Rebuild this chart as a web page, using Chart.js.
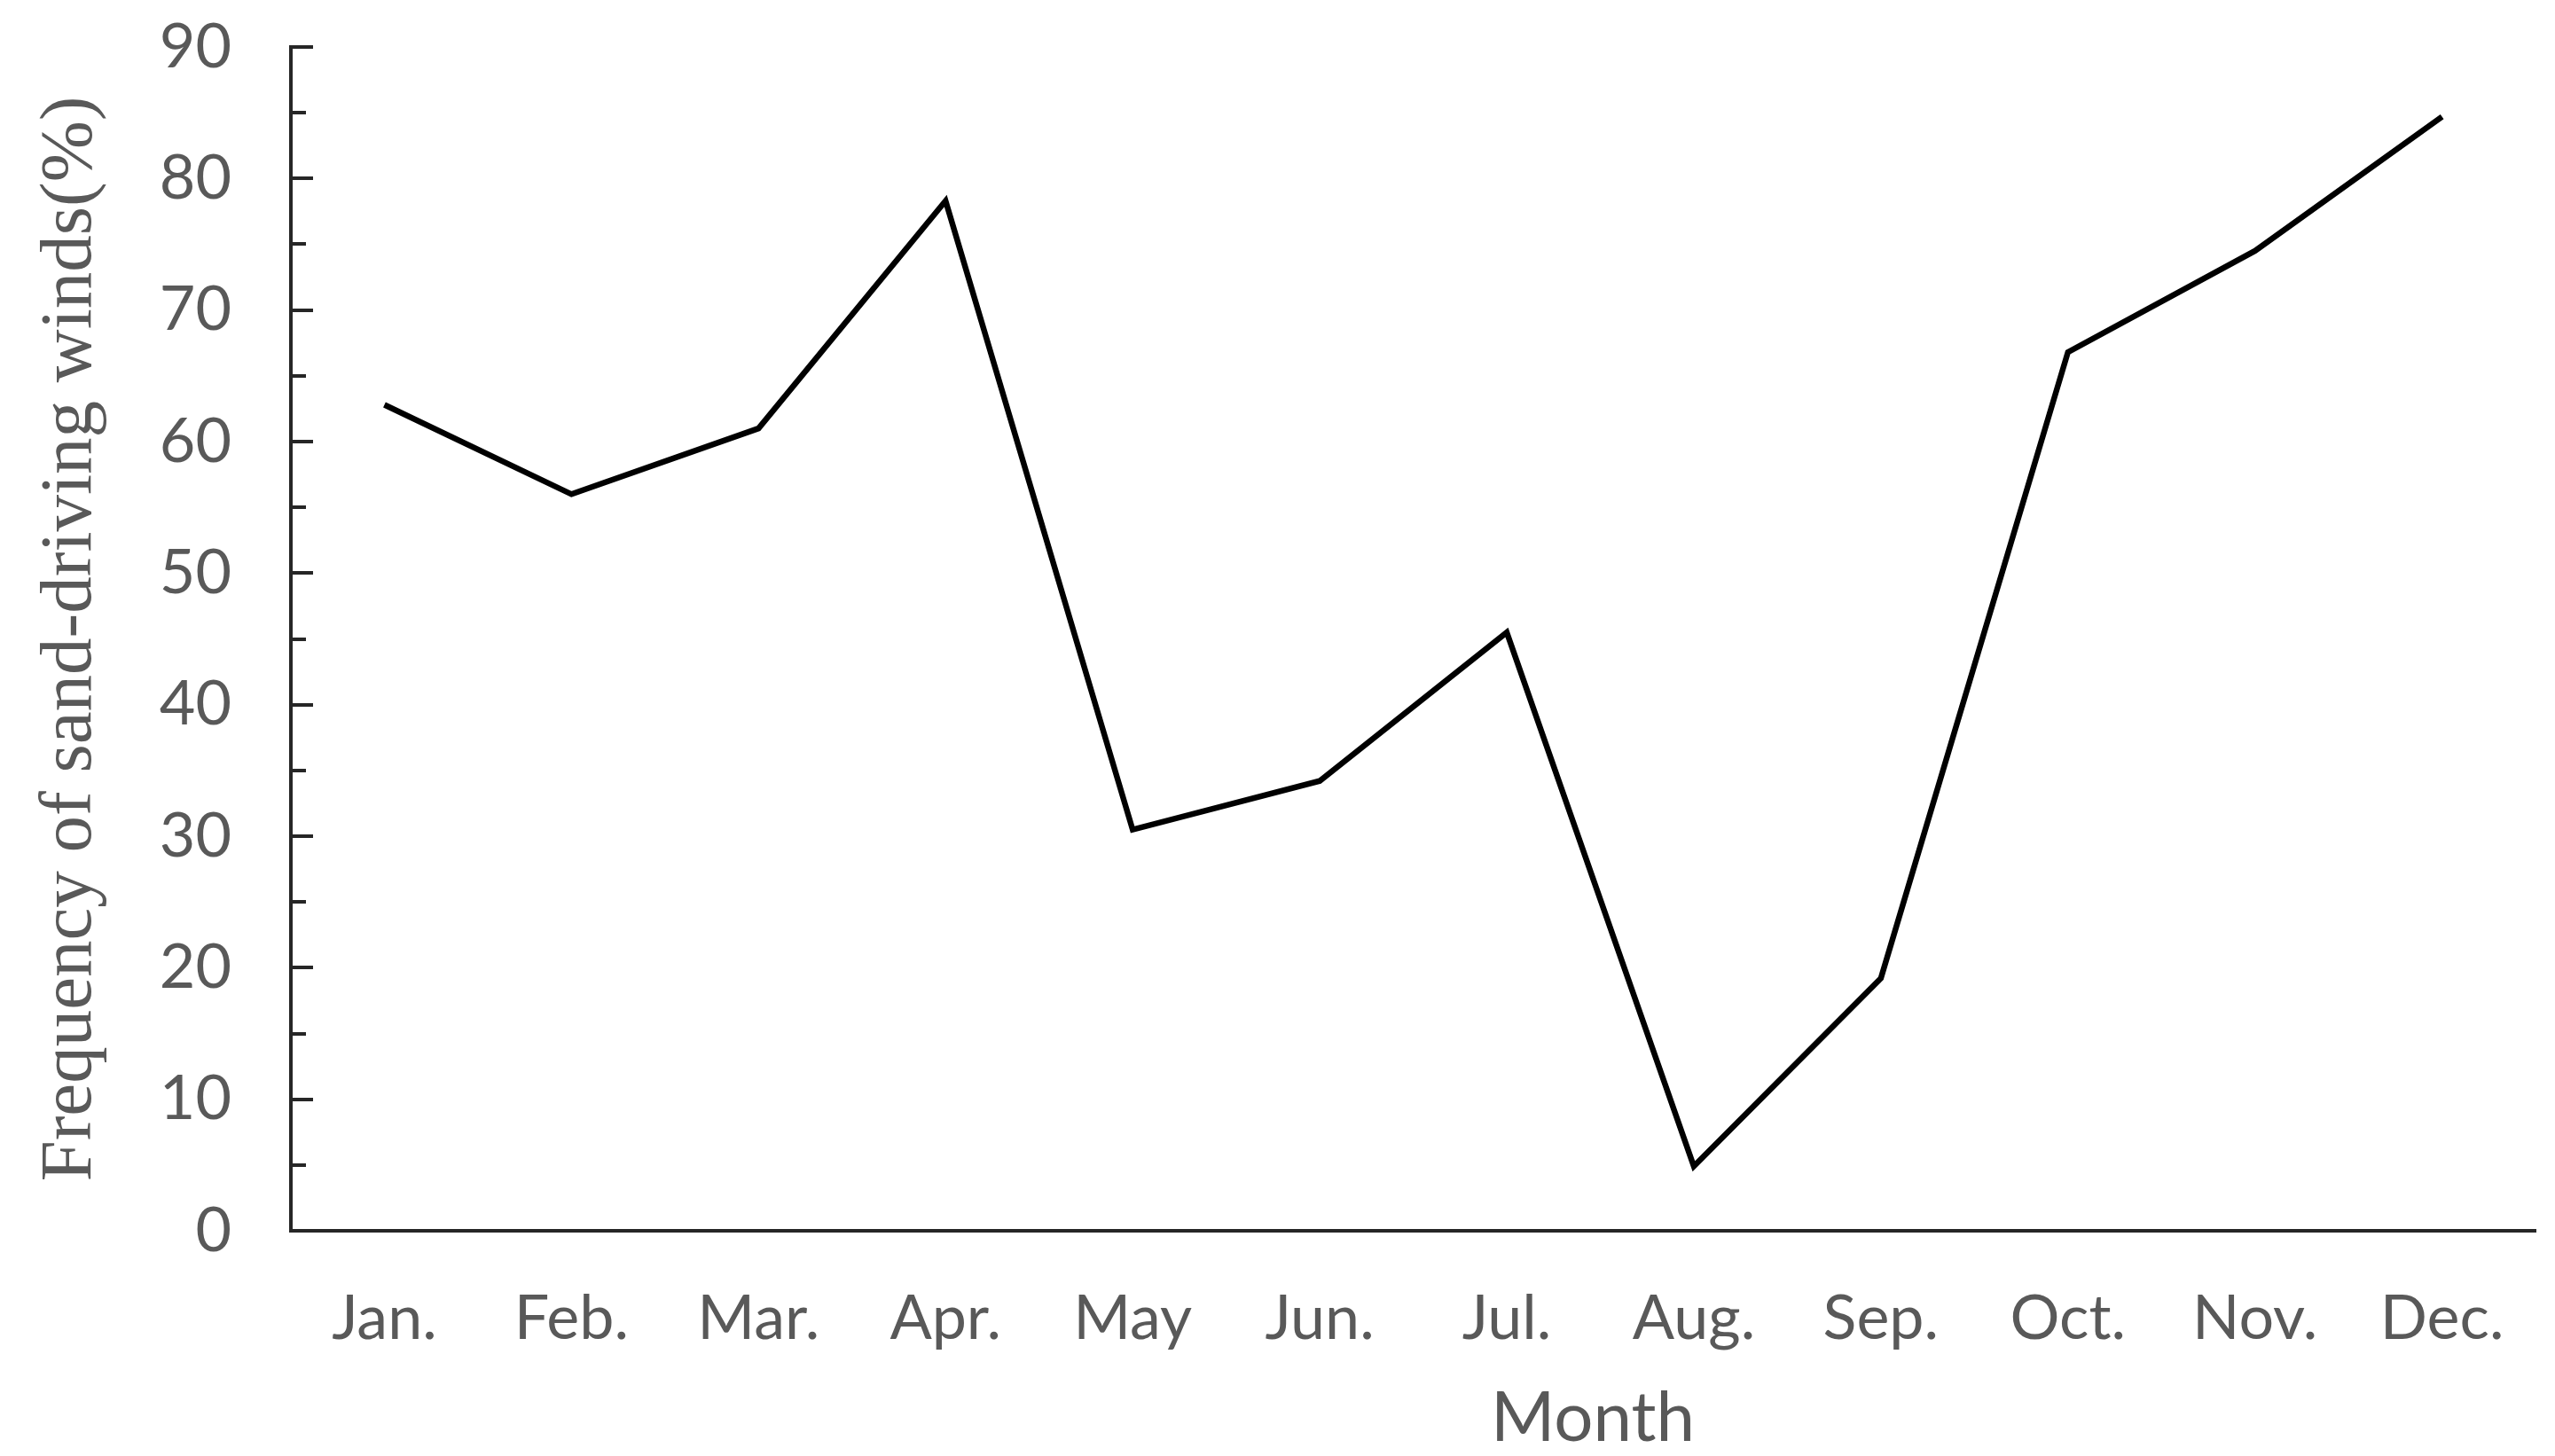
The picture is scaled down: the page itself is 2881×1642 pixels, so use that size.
<!DOCTYPE html>
<html>
<head>
<meta charset="utf-8">
<script src="https://cdn.jsdelivr.net/npm/chart.js@4.4.1/dist/chart.umd.min.js"></script>
<style>
    html, body { margin: 0; padding: 0; background: #fff; }
    #wrap { width: 2881px; height: 1642px; }
</style>
</head>
<body>
<div id="wrap"><canvas id="lineChart" width="2881" height="1642"></canvas></div>
<script>
// Chart data
const months = ['Jan.', 'Feb.', 'Mar.', 'Apr.', 'May', 'Jun.', 'Jul.', 'Aug.', 'Sep.', 'Oct.', 'Nov.', 'Dec.'];
const frequency = [62.8, 56.0, 61.0, 78.3, 30.5, 34.2, 45.5, 4.9, 19.2, 66.8, 74.5, 84.7];
const yMin = 0;
const yMax = 90;
const yStep = 10;
const yMinorStep = 5;

const textGray = '#595959';
const axisColor = '#262626';
const sansFont = "'Lato', sans-serif";

// inward tick marks on the y axis (major every 10, minor every 5)
const innerTicks = {
    id: 'innerTicks',
    afterDraw(chart) {
        const y = chart.scales.y;
        const ctx = chart.ctx;
        ctx.save();
        ctx.strokeStyle = axisColor;
        ctx.lineWidth = 4;
        for (let v = yMin; v <= yMax; v += yMinorStep) {
            const py = Math.round(y.getPixelForValue(v));
            const len = v % yStep === 0 ? 25 : 17;
            ctx.beginPath();
            ctx.moveTo(y.right, py);
            ctx.lineTo(y.right + len, py);
            ctx.stroke();
        }
        ctx.restore();
    }
};

// x axis title sits right of centre in the original
const monthTitle = {
    id: 'monthTitle',
    afterDraw(chart) {
        const area = chart.chartArea;
        const ctx = chart.ctx;
        ctx.save();
        ctx.fillStyle = textGray;
        ctx.font = '78px ' + sansFont;
        ctx.textAlign = 'center';
        ctx.textBaseline = 'middle';
        ctx.fillText('Month', area.left + (area.right - area.left) * 0.58, 1600);
        ctx.restore();
    }
};

new Chart(document.getElementById('lineChart').getContext('2d'), {
    type: 'line',
    data: {
        labels: months,
        datasets: [{
            label: 'Frequency',
            data: frequency,
            borderColor: '#000',
            borderWidth: 6.5,
            borderJoinStyle: 'miter',
            pointRadius: 0,
            tension: 0,
            fill: false
        }]
    },
    options: {
        responsive: false,
        devicePixelRatio: 1,
        animation: false,
        layout: { padding: { top: 53, right: 13, left: 0, bottom: 0 } },
        plugins: {
            legend: { display: false },
            tooltip: { enabled: false }
        },
        scales: {
            x: {
                offset: true,
                grid: { display: false, drawTicks: false },
                border: { display: true, color: axisColor, width: 4 },
                ticks: {
                    color: textGray,
                    padding: 57,
                    maxRotation: 0,
                    font: { family: sansFont, size: 70 }
                },
                afterFit(scale) { scale.height = 254; }
            },
            y: {
                min: yMin,
                max: yMax,
                grid: { display: false, drawTicks: false },
                border: { display: true, color: axisColor, width: 4 },
                ticks: {
                    stepSize: yStep,
                    color: textGray,
                    padding: 67,
                    font: { family: sansFont, size: 70 }
                },
                title: {
                    display: true,
                    text: 'Frequency of sand-driving winds(%)',
                    color: textGray,
                    padding: { top: 30, bottom: 0 },
                    font: { family: "'Liberation Serif', 'Times New Roman', serif", size: 83, lineHeight: 1.2 }
                },
                afterFit(scale) {
                    scale.width = 328;
                    // tick padding would otherwise push the plot top down
                    scale.paddingTop = 0;
                    scale.paddingBottom = 0;
                }
            }
        }
    },
    plugins: [innerTicks, monthTitle]
});
</script>
</body>
</html>
